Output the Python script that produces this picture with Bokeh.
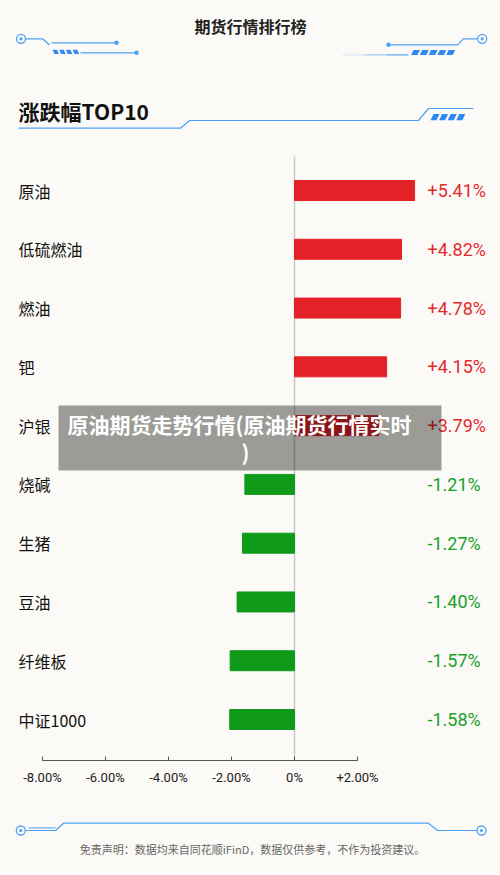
from bokeh.plotting import figure
from bokeh.models import Range1d, LinearAxis, FixedTicker, CustomJSTickFormatter, ColumnDataSource
from bokeh.layouts import column
from bokeh.core.properties import value
from bokeh.embed import file_html
from bokeh.resources import INLINE

# ---------------- data ----------------
TITLE = "期货行情排行榜"
SECTION = "涨跌幅TOP10"
NAMES = ["原油", "低硫燃油", "燃油", "钯", "沪银", "烧碱", "生猪", "豆油", "纤维板", "中证1000"]
CHANGES = [5.41, 4.82, 4.78, 4.15, 3.79, -1.21, -1.27, -1.40, -1.57, -1.58]
TICKS = [-8, -6, -4, -2, 0, 2]
WATERMARK = ["原油期货走势行情(原油期货行情实时", ")"]
DISCLAIMER = "免责声明：数据均来自同花顺iFinD，数据仅供参考，不作为投资建议。"

# ---------------- style ----------------
BG = "#FCFAF6"
RED = "#E32227"
GREEN = "#0F9A1A"
RED_TXT = "#E52A2E"
GREEN_TXT = "#17A02A"
BLUE = "#4DA2F5"
BLUE_D = "#2E8AF2"
CJK = value("Noto Sans CJK SC")
NUM = value("Roboto")

W = 500
X0, X1 = 0, 500          # page-pixel frame span
ZERO = 294               # page x of zero line


def lin_range(zero_px, ppu):
    return Range1d(start=(X0 - zero_px) / ppu, end=(X1 - zero_px) / ppu)


ROW0, ROWSTEP = 190, 58.78
FRAME_BOTTOM = 760

p = figure(width=W, height=800, x_range=Range1d(X0, X1), y_range=Range1d(FRAME_BOTTOM, 0),
           x_axis_location=None, y_axis_location=None, toolbar_location=None,
           output_backend="svg", min_border=0, min_border_bottom=40,
           background_fill_color=BG, border_fill_color=BG, outline_line_color=None)
p.grid.visible = False
p.extra_x_ranges = {"pos": lin_range(ZERO, 22.2), "neg": lin_range(ZERO, 41.0),
                    "axis": lin_range(ZERO, 31.5)}
p.extra_y_ranges = {"rows": Range1d(start=(FRAME_BOTTOM - ROW0) / ROWSTEP, end=(0 - ROW0) / ROWSTEP)}

rows = list(range(len(NAMES)))
pos_src = ColumnDataSource(dict(y=[r for r, v in zip(rows, CHANGES) if v >= 0],
                                v=[v for v in CHANGES if v >= 0]))
neg_src = ColumnDataSource(dict(y=[r for r, v in zip(rows, CHANGES) if v < 0],
                                v=[v for v in CHANGES if v < 0]))
lab_src = ColumnDataSource(dict(
    y=rows, name=NAMES,
    txt=[("+" if v >= 0 else "") + f"{v:.2f}%" for v in CHANGES],
    col=[RED_TXT if v >= 0 else GREEN_TXT for v in CHANGES],
    x=[18] * len(rows), xv=[427] * len(rows)))

# zero line
p.segment(x0=[ZERO], x1=[ZERO], y0=[156], y1=[FRAME_BOTTOM], line_color="#C9C9C9", line_width=1.5)

# bars
p.hbar(y="y", left=0, right="v", height=0.34, source=pos_src, x_range_name="pos",
       y_range_name="rows", fill_color=RED, line_color=RED)
p.hbar(y="y", left=0, right="v", height=0.34, source=neg_src, x_range_name="neg",
       y_range_name="rows", fill_color=GREEN, line_color=GREEN)

# category labels and value labels
p.text(x="x", y="y", text="name", source=lab_src, y_range_name="rows",
       text_font=CJK, text_font_size="16px", text_color="#111111",
       text_align="left", text_baseline="middle")
p.text(x="xv", y="y", text="txt", source=lab_src, y_range_name="rows",
       text_font=NUM, text_font_size="18px", text_color="col",
       text_align="left", text_baseline="middle")

# axis
ax = LinearAxis(x_range_name="axis", ticker=FixedTicker(ticks=TICKS),
                formatter=CustomJSTickFormatter(code="""
                    if (tick == 0) return '0%';
                    return (tick > 0 ? '+' : '') + tick.toFixed(2) + '%';"""),
                bounds=(min(TICKS), max(TICKS)))
ax.axis_line_color = "#555555"
ax.major_tick_line_color = "#555555"
ax.major_tick_in = 4
ax.major_tick_out = 0
ax.minor_tick_line_color = None
ax.major_label_standoff = 9
ax.major_label_text_font = "Roboto"
ax.major_label_text_font_size = "13px"
ax.major_label_text_color = "#222222"
p.add_layout(ax, "below")

# ---------------- header decorations ----------------
p.text(x=[250], y=[25], text=[TITLE], text_font=CJK, text_font_size="16px",
       text_font_style="bold", text_color="#222222", text_align="center", text_baseline="middle")


def stripes(x_start, n, y_top, y_bot, w=5, gap=2.6, slant=2.5, forward=True):
    xs, ys = [], []
    for k in range(n):
        a = x_start + k * (w + gap)
        if forward:
            xs.append([a + slant, a + slant + w, a + w, a])
        else:
            xs.append([a, a + w, a + w + slant, a + slant])
        ys.append([y_top, y_top, y_bot, y_bot])
    return xs, ys


def ring(fig, x, y):
    fig.scatter(x=[x], y=[y], size=9, marker="circle", fill_color=BG, line_color=BLUE, line_width=1.3)
    fig.scatter(x=[x], y=[y], size=3.2, marker="circle", fill_color=BLUE, line_color=None)


# top-left
ring(p, 20.5, 38.3)
p.line(x=[25, 42, 49], y=[38.3, 38.3, 44.5], line_color=BLUE, line_width=1.2)
p.line(x=[51, 116], y=[42.3, 42.3], line_color=BLUE, line_width=1.2)
p.scatter(x=[116], y=[42.3], size=4.5, fill_color=BLUE, line_color=None)
sx, sy = stripes(52, 4, 49.3, 53.5, w=4.5, gap=2.2, slant=2.0, forward=False)
p.patches(xs=sx, ys=sy, fill_color=BLUE_D, line_color=None)
p.line(x=[80, 136], y=[52.3, 52.3], line_color=BLUE, line_width=1.2)
p.scatter(x=[136], y=[52.3], size=4.5, fill_color=BLUE, line_color=None)

# top-right
ring(p, 481.7, 38.3)
p.line(x=[477, 463, 457, 388], y=[38.3, 38.3, 44.3, 44.3], line_color=BLUE, line_width=1.2)
p.scatter(x=[388], y=[44.3], size=4.5, fill_color=BLUE, line_color=None)
p.segment(x0=[342, 364, 386], x1=[364, 386, 408], y0=[54.3] * 3, y1=[54.3] * 3,
          line_color=BLUE, line_width=1.2, line_alpha=[0.2, 0.5, 0.9])
sx, sy = stripes(410.5, 5, 49.5, 54.5, w=6.5, gap=2.3, slant=2.5, forward=True)
p.patches(xs=sx, ys=sy, fill_color=BLUE_D, line_color=None)

# section title
p.text(x=[18], y=[110], text=[SECTION], text_font=CJK, text_font_size="21px",
       text_font_style="bold", text_color="#111111", text_align="left", text_baseline="middle")
p.line(x=[18, 180, 189, 418, 428, 473], y=[127.7, 127.7, 120, 120, 108, 108],
       line_color=BLUE, line_width=1.2)
sx, sy = stripes(430, 4, 113.5, 119.8, w=6.0, gap=2.6, slant=3.0, forward=True)
p.patches(xs=sx, ys=sy, fill_color=BLUE_D, line_color=None)

# watermark overlay
p.quad(left=[58], right=[441], top=[405], bottom=[470], fill_color="#000000",
       fill_alpha=0.38, line_color=None)
p.text(x=[239, 245], y=[423, 451], text=WATERMARK, text_font=CJK, text_font_size="21px",
       text_font_style="bold", text_color="white", text_align="center", text_baseline="middle")

# ---------------- footer ----------------
f = figure(width=W, height=74, x_range=Range1d(X0, X1), y_range=Range1d(874, 800),
           x_axis_location=None, y_axis_location=None, toolbar_location=None,
           output_backend="svg", min_border=0,
           background_fill_color=BG, border_fill_color=BG, outline_line_color=None)
f.grid.visible = False
ring(f, 20.3, 830)
ring(f, 481, 830)
f.line(x=[25, 55, 63, 428, 437, 477], y=[830, 830, 822.7, 822.7, 830, 830],
       line_color=BLUE, line_width=1.2)
f.line(x=[28, 55], y=[827.4, 827.4], line_color=BLUE, line_width=1.0)
f.text(x=[252], y=[848], text=[DISCLAIMER], text_font=CJK, text_font_size="11px",
       text_color="#666666", text_align="center", text_baseline="middle")

layout = column(p, f, spacing=0)
open("out.html", "w").write(file_html(layout, INLINE))
